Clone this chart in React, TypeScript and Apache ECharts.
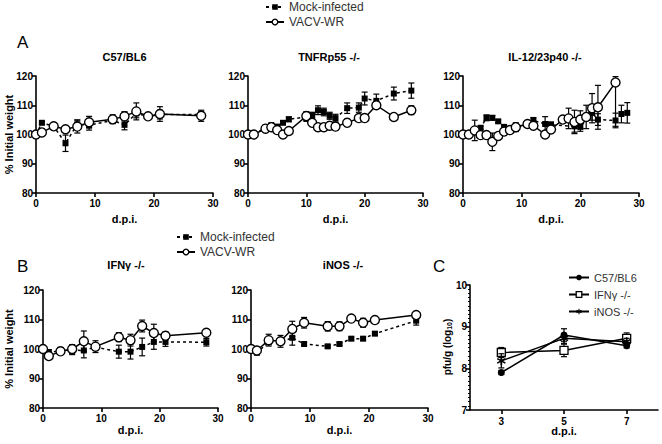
import React, { useEffect, useRef } from 'react';
import * as echarts from 'echarts';

const FONT = '"Liberation Sans", Arial, sans-serif';

type Err = number | [number, number];

// ---- Panel A1: C57/BL6 ----
const c57Days = [0, 1, 3, 5, 7, 9, 13, 15, 17, 19, 21, 28];
const c57Mock = [100, 104, 102.8, 97, 103.5, 103.2, 104.8, 103.3, 107.2, 106.2, 106.8, 106.8];
const c57MockErr: Err[] = [0, 0.5, 0.8, 2.8, 1.5, 1.7, 1, 1.7, 1.5, 0.5, 1.5, 1];
const c57Vacv = [100, 100.7, 102.8, 101.8, 102.7, 104.2, 105.2, 106.2, 107.9, 106.2, 107, 106.4];
const c57VacvErr: Err[] = [0, 0.6, 1, 0.8, 2.2, 2, 1.5, 1.6, 2.9, 0.5, 2.5, 1.9];

// ---- Panel A2: TNFRp55 -/- ----
const tnfDays = [0, 1, 3, 4, 5, 6, 7, 10, 11, 12, 13, 14, 15, 17, 19, 20, 22, 25, 28];
const tnfMock = [100, 100, 102.4, 103.2, 102.7, 104, 105.2, 106, 106.6, 108.3, 107.7, 106.4, 105.6, 109, 109.2, 112.3, 111.5, 114, 115];
const tnfMockErr: Err[] = [0, 0, 0.5, 0.5, 0.5, 0.5, 0.8, 1.5, 1, 1.5, 1.3, 1.2, 1.3, 1.8, 1.6, 2.2, 2.3, 2.2, 2.6];
const tnfVacv = [100, 100, 102, 102.5, 101.5, 100, 101.2, 106.3, 104, 102.5, 102.5, 103, 102.7, 104, 105.6, 105.6, 110, 106, 108.3];
const tnfVacvErr: Err[] = [0, 0, 0.5, 0.5, 0.5, 0.5, 0.5, 1.5, 0.8, 0.5, 0.5, 0.5, 1.2, 1.2, 0.8, 0.8, 0.8, 0.8, 1.5];

// ---- Panel A3: IL-12/23p40 -/- ----
const il12MockDays = [0, 3, 4, 5, 6, 7, 9, 11, 12, 14, 15, 19, 20, 22, 23, 26, 27, 28];
const il12Mock = [100, 102.3, 105.7, 105.7, 104.5, 102.6, 102.5, 103.7, 104.8, 103.6, 103.3, 102.8, 102.6, 107.4, 105.1, 104.8, 107, 107.4];
const il12MockErr: Err[] = [0, 0.5, 1, 0.8, 0.5, 0.8, 0.5, 0.5, 1, 2.5, 1, 2, 1.5, 2.5, 2, 2.5, 3, 3.5];
const il12VacvDays = [0, 1, 2, 3, 4, 5, 6, 7, 8, 9, 11, 12, 14, 15, 17, 18, 19, 20, 21, 22, 23, 26];
const il12Vacv = [100, 100, 101.4, 99.8, 99.8, 97.5, 99.5, 101, 101.5, 102.5, 103.6, 103, 100, 101.7, 105.1, 105.5, 104.3, 105.1, 106, 109, 109.3, 117.8];
const il12VacvErr: Err[] = [0, 0, 3.5, 0.5, 0.5, 3, 0.5, 0.5, 0.5, 1.5, 0.5, 0.8, 0.5, 0.5, 1, 3.5, 4, 3, 4, 5, 7.5, [15, 2]];

// ---- Panel B1: IFNγ -/- ----
const ifnDays = [0, 1, 3, 5, 7, 9, 13, 15, 17, 19, 21, 28];
const ifnMock = [100, 98.8, 99.5, 99.6, 99.5, 100.6, 99.1, 99.1, 100.7, 102.4, 102.4, 102.3];
const ifnMockErr: Err[] = [0, 1, 1, 1.5, 2.5, 1, 2.2, 2.5, 3, 2.5, 1.5, 1.3];
const ifnVacv = [100, 97.6, 99.2, 100, 102.6, 100.8, 104, 103, 107.8, 105.4, 104.5, 105.5];
const ifnVacvErr: Err[] = [0, 0.8, 1, 1.5, 3.5, 2, 1.5, 2, 2, 3, 1.3, 0.8];

// ---- Panel B2: iNOS -/- ----
const inosDays = [0, 1, 3, 5, 7, 9, 13, 15, 17, 19, 21, 28];
const inosMock = [100, 98.8, 102.3, 102.3, 103.8, 101.7, 100.9, 101.7, 103.5, 103.5, 105.2, 109.6];
const inosMockErr: Err[] = [0, 0.8, 0.5, 0.5, 2.5, 0.5, 0.5, 0.5, 0.5, 0.5, 0.5, 1.5];
const inosVacv = [100, 99.5, 103, 102.6, 106.8, 108.9, 107.7, 107.7, 110.3, 108.9, 109.8, 111.5];
const inosVacvErr: Err[] = [0, 0.8, 2, 2, 2.6, 1.8, 1.6, 1.5, 0.5, 1.5, 0.5, 0.5];

// ---- Panel C: viral titres ----
const titreDays = ['3', '5', '7'];
const titreC57 = [7.9, 8.8, 8.54];
const titreC57Err: Err[] = [0.05, 0.15, 0.05];
const titreIfn = [8.38, 8.43, 8.72];
const titreIfnErr: Err[] = [0.12, 0.15, 0.13];
const titreInos = [8.18, 8.72, 8.64];
const titreInosErr: Err[] = [0.17, 0.12, 0.08];

const weightTicks = { min: 80, max: 120, interval: 10 };
const dayTicks = { min: 0, max: 30, interval: 10 };

const STAR =
  'path://M0.9,-5L0.9,5L-0.9,5L-0.9,-5ZM-3.88,-3.28L4.78,1.72L3.88,3.28L-4.78,-1.72ZM-4.78,1.72L3.88,-3.28L4.78,-1.72L-3.88,3.28Z';

function errData(xs: number[], vals: number[], errs: Err[]) {
  return xs.map((x, i) => {
    const e = errs[i];
    const [lo, hi] = typeof e === 'number' ? [e, e] : e;
    return [x, vals[i], lo, hi];
  });
}

const renderErr = (_params: any, api: any) => {
  const x = api.value(0);
  const y = api.value(1);
  const lo = api.value(2);
  const hi = api.value(3);
  if (!(lo > 0) && !(hi > 0)) return { type: 'group', children: [] };
  const t = api.coord([x, y + hi]);
  const b = api.coord([x, y - lo]);
  const st = { stroke: '#000', lineWidth: 1.2 };
  const w = 3;
  return {
    type: 'group',
    children: [
      { type: 'line', shape: { x1: t[0], y1: t[1], x2: b[0], y2: b[1] }, style: st },
      { type: 'line', shape: { x1: t[0] - w, y1: t[1], x2: t[0] + w, y2: t[1] }, style: st },
      { type: 'line', shape: { x1: b[0] - w, y1: b[1], x2: b[0] + w, y2: b[1] }, style: st },
    ],
  };
};

function weightPanel(
  g: number,
  mockDays: number[], mock: number[], mockErr: Err[],
  vacvDays: number[], vacv: number[], vacvErr: Err[]
) {
  return [
    {
      type: 'custom', name: 'errMock' + g, xAxisIndex: g, yAxisIndex: g,
      renderItem: renderErr, data: errData(mockDays, mock, mockErr), encode: { x: 0, y: 1 }, z: 2, silent: true,
    },
    {
      type: 'line', name: 'Mock-infected', xAxisIndex: g, yAxisIndex: g,
      data: mockDays.map((d, i) => [d, mock[i]]),
      symbol: 'rect', symbolSize: 6, showAllSymbol: true,
      itemStyle: { color: '#000' },
      lineStyle: { color: '#000', width: 1.5, type: [3, 3] },
      z: 3,
    },
    {
      type: 'custom', name: 'errVacv' + g, xAxisIndex: g, yAxisIndex: g,
      renderItem: renderErr, data: errData(vacvDays, vacv, vacvErr), encode: { x: 0, y: 1 }, z: 4, silent: true,
    },
    {
      type: 'line', name: 'VACV-WR', xAxisIndex: g, yAxisIndex: g,
      data: vacvDays.map((d, i) => [d, vacv[i]]),
      symbol: 'circle', symbolSize: 9, showAllSymbol: true,
      itemStyle: { color: '#fff', borderColor: '#000', borderWidth: 1.4 },
      lineStyle: { color: '#000', width: 1.5 },
      z: 5,
    },
  ];
}

const axisLineStyle = { color: '#000', width: 1.6 };
const tickLabel = { color: '#000', fontSize: 10, fontWeight: 'bold' as const, fontFamily: FONT };

function xWeight(g: number) {
  return {
    gridIndex: g, type: 'value', ...dayTicks,
    axisLine: { show: true, onZero: false, lineStyle: axisLineStyle },
    axisTick: { show: true, length: 4, lineStyle: axisLineStyle },
    axisLabel: { ...tickLabel, margin: 5 },
    splitLine: { show: false },
  };
}

function yWeight(g: number) {
  return {
    gridIndex: g, type: 'value', ...weightTicks,
    axisLine: { show: true, onZero: false, lineStyle: axisLineStyle },
    axisTick: { show: true, length: 4, lineStyle: axisLineStyle },
    axisLabel: { ...tickLabel, margin: 3 },
    splitLine: { show: false },
  };
}

function text(t: string, x: number, y: number, size: number, bold: boolean, align = 'center', rotate = 0) {
  return {
    type: 'text', x, y, rotation: rotate,
    style: {
      text: t, fontSize: size, fontWeight: bold ? 'bold' : 'normal', fontFamily: FONT,
      fill: '#000', textAlign: align, textVerticalAlign: 'middle',
    },
  };
}

const legendBase = {
  orient: 'vertical', padding: 0, itemWidth: 18, itemHeight: 7, itemGap: 3,
  itemStyle: { borderWidth: 1.3 },
  textStyle: { fontSize: 12, lineHeight: 12, color: '#333', fontFamily: FONT },
};

export default function App() {
  const ref = useRef<HTMLDivElement>(null);
  useEffect(() => {
    if (!ref.current) return;
    const chart = echarts.init(ref.current, undefined, { renderer: 'svg' });
    const series: any[] = [
      ...weightPanel(0, c57Days, c57Mock, c57MockErr, c57Days, c57Vacv, c57VacvErr),
      ...weightPanel(1, tnfDays, tnfMock, tnfMockErr, tnfDays, tnfVacv, tnfVacvErr),
      ...weightPanel(2, il12MockDays, il12Mock, il12MockErr, il12VacvDays, il12Vacv, il12VacvErr),
      ...weightPanel(3, ifnDays, ifnMock, ifnMockErr, ifnDays, ifnVacv, ifnVacvErr),
      ...weightPanel(4, inosDays, inosMock, inosMockErr, inosDays, inosVacv, inosVacvErr),
    ];
    const idx = titreDays.map((_, i) => i);
    const cSeries = [
      { name: 'C57/BL6', vals: titreC57, err: titreC57Err, symbol: 'circle', size: 7, item: { color: '#000' } },
      { name: 'IFNγ -/-', vals: titreIfn, err: titreIfnErr, symbol: 'rect', size: 8, item: { color: '#fff', borderColor: '#000', borderWidth: 1.3 } },
      { name: 'iNOS -/-', vals: titreInos, err: titreInosErr, symbol: STAR, size: 9, item: { color: '#000' } },
    ];
    cSeries.forEach((s, k) => {
      series.push({
        type: 'custom', name: 'errC' + k, xAxisIndex: 5, yAxisIndex: 5, renderItem: renderErr,
        data: errData(idx, s.vals, s.err), encode: { x: 0, y: 1 }, z: 2 + k * 2, silent: true,
      });
      series.push({
        type: 'line', name: s.name, xAxisIndex: 5, yAxisIndex: 5, data: s.vals,
        symbol: s.symbol, symbolSize: s.size, showAllSymbol: true,
        itemStyle: s.item, lineStyle: { color: '#000', width: 1.5 }, z: 3 + k * 2,
      });
    });

    const option: any = {
      animation: false,
      backgroundColor: '#fff',
      grid: [
        { left: 36, top: 76, width: 177, height: 117 },
        { left: 248, top: 76, width: 175, height: 117 },
        { left: 463, top: 76, width: 176, height: 117 },
        { left: 43, top: 290, width: 175, height: 118 },
        { left: 251, top: 290, width: 177, height: 118 },
        { left: 470, top: 285, width: 188, height: 125 },
      ],
      xAxis: [
        xWeight(0), xWeight(1), xWeight(2), xWeight(3), xWeight(4),
        {
          gridIndex: 5, type: 'category', data: titreDays, boundaryGap: true,
          axisLine: { show: true, onZero: false, lineStyle: axisLineStyle },
          axisTick: { show: true, length: 4, alignWithLabel: true, lineStyle: axisLineStyle },
          axisLabel: { ...tickLabel, margin: 6 },
        },
      ],
      yAxis: [
        yWeight(0), yWeight(1), yWeight(2), yWeight(3), yWeight(4),
        {
          gridIndex: 5, type: 'value', min: 7, max: 10, interval: 1,
          axisLine: { show: true, onZero: false, lineStyle: axisLineStyle },
          axisTick: { show: true, length: 4, lineStyle: axisLineStyle },
          minorTick: { show: true, splitNumber: 10, length: 2, lineStyle: { color: '#000', width: 1 } },
          axisLabel: { ...tickLabel, margin: 3 },
          splitLine: { show: false },
        },
      ],
      legend: [
        { ...legendBase, data: ['Mock-infected', 'VACV-WR'], left: 265, top: 1 },
        { ...legendBase, data: ['Mock-infected', 'VACV-WR'], left: 176, top: 231 },
        {
          ...legendBase, data: ['C57/BL6', 'IFNγ -/-', 'iNOS -/-'], left: 568, top: 272,
          itemWidth: 20, itemGap: 6,
          textStyle: { fontSize: 11, lineHeight: 11, color: '#333', fontFamily: FONT },
        },
      ],
      graphic: [
        text('A', 17, 42, 17, false, 'left'),
        text('B', 17, 266, 17, false, 'left'),
        text('C', 433, 266, 17, false, 'left'),
        text('C57/BL6', 124.5, 57, 11, true),
        text('TNFRp55 -/-', 329, 57, 11, true),
        text('IL-12/23p40 -/-', 545, 57, 11, true),
        text('IFNγ -/-', 126, 265, 11, true),
        text('iNOS -/-', 343, 265, 11, true),
        text('d.p.i.', 124.5, 219, 11, true),
        text('d.p.i.', 335.5, 219, 11, true),
        text('d.p.i.', 551, 219, 11, true),
        text('d.p.i.', 130.5, 430, 11, true),
        text('d.p.i.', 339.5, 430, 11, true),
        text('d.p.i.', 564, 431, 11, true),
        text('% Initial weight', 9, 134.5, 11, true, 'center', Math.PI / 2),
        text('% Initial weight', 9, 349, 11, true, 'center', Math.PI / 2),
        {
          type: 'text', x: 447, y: 347, rotation: Math.PI / 2,
          style: {
            text: '{a|pfu/g (log}{b|10}{a|)}', textAlign: 'center', textVerticalAlign: 'middle',
            rich: {
              a: { fontSize: 10, fontWeight: 'bold', fontFamily: FONT, fill: '#000' },
              b: { fontSize: 7, fontWeight: 'bold', fontFamily: FONT, fill: '#000', padding: [5, 0, 0, 0] },
            },
          },
        },
      ],
      series,
    };
    chart.setOption(option);
    return () => chart.dispose();
  }, []);
  return (
    <div
      ref={ref}
      style={{ position: 'absolute', left: 0, top: 0, width: 662, height: 444, background: '#fff' }}
    />
  );
}
